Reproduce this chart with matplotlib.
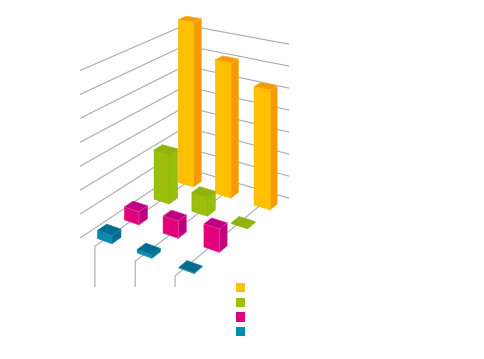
import matplotlib
matplotlib.use("Agg")
import matplotlib.pyplot as plt
from matplotlib.patches import Polygon, Rectangle

# Values in gridline units (columns = 3 categories)
yellow = [7.7, 6.15, 5.3]
green = [2.24, 0.83, 0.05]
magenta = [0.566, 0.72, 0.945]
blue = [0.345, 0.135, 0.03]
grid_levels = [0, 1, 2, 3, 4, 5, 6, 7]

# Series, from back to front: (values, front, side, top, edge)
series = [
    (yellow, "#FFC000", "#F59B00", "#F59B00", "#FFB81A"),
    (green, "#9BBF0C", "#98BE0C", "#8FB50B", "#8AAE10"),
    (magenta, "#E2007A", "#BE0082", "#BE0082", "#E63A98"),
    (blue, "#008CB0", "#006C8E", "#006C8E", "#1A86A8"),
]

# Camera: back corner, two vanishing points, pixels per gridline
CX, CY = 185.0, 168.0
VX, VY = 796.0, -240.0
WX, WY = -1164.0, -223.0
H = 143.0 / 7
A_MAX, B_MAX = 0.1466, 0.0716
FLOOR_A = 0.1495
ROW_POS = [0.0205, 0.0575, 0.0995, 0.134]
COL_POS = [0.0128, 0.0385, 0.0640]
LINE_POS = [0.0117, 0.0377, 0.0619]
DA, DB = 0.0064, 0.0054


def proj(a, b, z=0.0):
    w = 1 - a - b
    return ((CX - a * VX - b * WX) / w, (CY - a * VY - b * WY - H * z) / w)


fig = plt.figure(figsize=(4.85, 3.59), dpi=100)
ax = fig.add_axes([0, 0, 1, 1])
ax.set_xlim(0, 485)
ax.set_ylim(359, 0)
ax.axis("off")

GL = dict(color="#ABABAB", lw=0.8, solid_capstyle="butt", zorder=1)
for z in grid_levels:
    p0, p1, p2 = proj(A_MAX, 0, z), proj(0, 0, z), proj(0, B_MAX, z)
    ax.plot([p0[0], p1[0], p2[0]], [p0[1], p1[1], p2[1]], **GL)

for b in LINE_POS:
    p0, p1 = proj(0, b), proj(FLOOR_A, b)
    ax.plot([p0[0], p1[0], p1[0]], [p0[1], p1[1], 287], **GL)

zo = 2
for r, (vals, front, side, top, edge) in enumerate(series):
    a = ROW_POS[r]
    for c, v in enumerate(vals):
        b = COL_POS[c]
        scale = (1 - a - b) / 0.96
        da, db = DA * scale, DB * scale
        L = (a + da, b - db)
        F = (a + da, b + db)
        R = (a - da, b + db)
        K = (a - da, b - db)
        faces = [
            ([proj(*F), proj(*R), proj(*R, v), proj(*F, v)], side),
            ([proj(*L), proj(*F), proj(*F, v), proj(*L, v)], front),
            ([proj(*L, v), proj(*F, v), proj(*R, v), proj(*K, v)], top),
        ]
        for pts, col in faces:
            ax.add_patch(Polygon(pts, closed=True, facecolor=col, edgecolor=edge,
                                 lw=0.4, joinstyle="round", zorder=zo))
        zo += 1

for (vals, front, side, top, edge), y in zip(series, [282.5, 297.5, 312.3, 327]):
    ax.add_patch(Rectangle((236, y), 9.5, 9.3, facecolor=front, edgecolor="none", zorder=zo))

fig.savefig("out.png", dpi=100)
